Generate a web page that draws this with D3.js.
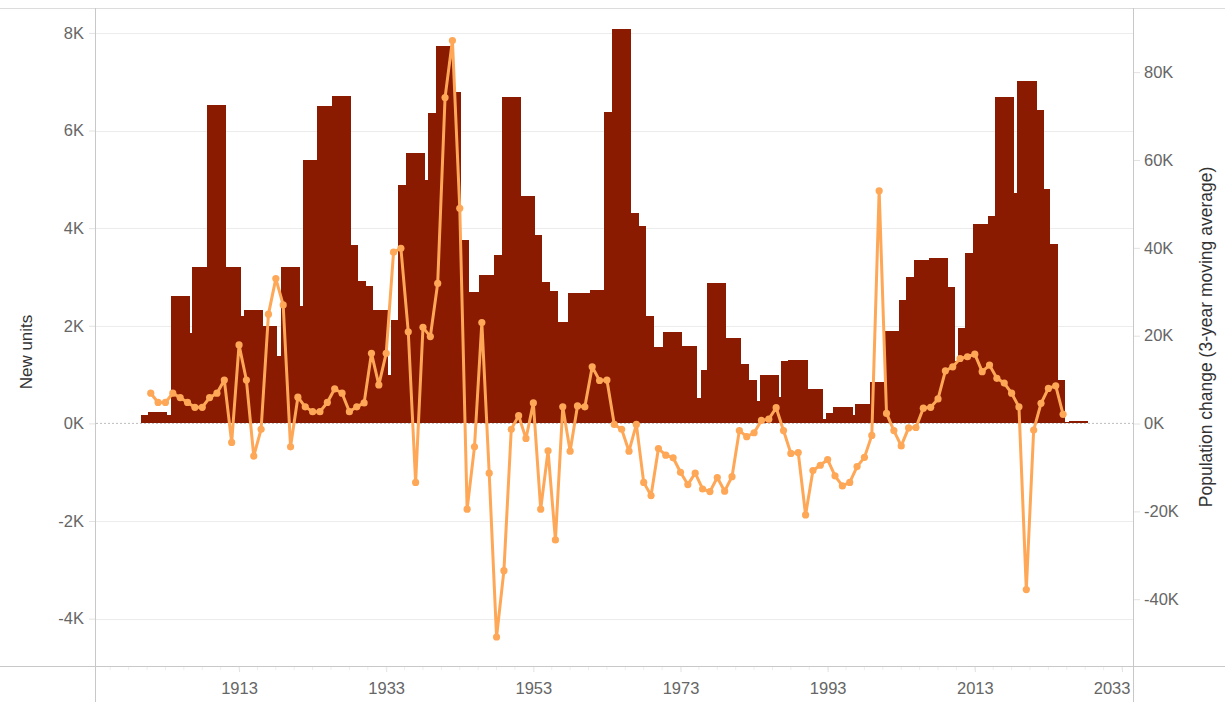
<!DOCTYPE html>
<html>
<head>
<meta charset="utf-8">
<script src="https://cdn.jsdelivr.net/npm/d3@7"></script>
<style>
  body { margin: 0; background: #fff; }
  text { font-family: "Liberation Sans", Arial, sans-serif; }
</style>
</head>
<body>
<svg id="chart" width="1225" height="702"></svg>
<script>
// bars: each one runs from its start year to the next start year
var barYears = [1899.64, 1900.67, 1903.17, 1903.76, 1906.24, 1906.61, 1908.65, 1911.14, 1913.18, 1913.72,
  1916.22, 1918.13, 1918.67, 1921.16, 1921.74, 1923.6, 1925.64, 1928.13, 1929.14, 1930.17,
  1931.18, 1933.21, 1933.62, 1934.66, 1935.66, 1938.19, 1938.73, 1939.78, 1942.13, 1943.14,
  1944.13, 1945.67, 1947.71, 1948.75, 1951.3, 1953.14, 1954.15, 1955.18, 1956.23, 1957.77,
  1960.68, 1962.66, 1963.75, 1966.25, 1967.28, 1968.29, 1969.32, 1970.68, 1973.18, 1975.22,
  1975.77, 1976.66, 1979.16, 1981.2, 1982.24, 1983.28, 1983.83, 1986.32, 1986.68, 1987.67,
  1990.22, 1992.26, 1992.8, 1993.79, 1996.38, 1996.7, 1998.78, 2000.82, 2002.63, 2003.67,
  2004.72, 2006.76, 2009.25, 2010.3, 2010.78, 2011.6, 2012.69, 2014.73, 2015.73, 2018.26,
  2018.8, 2021.35, 2022.34, 2023.21, 2024.2, 2025.25, 2025.79];
var barEndYear = 2028.28;
var newUnits = [170, 230, 170, 2610, 1850, 3200, 6530, 3200, 2200, 2330,
  2000, 1380, 3200, 2410, 5400, 6500, 6710, 3660, 2920, 2820,
  2330, 990, 2120, 4890, 5530, 4990, 6350, 7740, 6780, 3760,
  2690, 3040, 3450, 6680, 4660, 3860, 2890, 2710, 2070, 2670,
  2740, 6370, 8090, 4310, 4050, 2200, 1560, 1870, 1590, 520,
  1100, 2870, 1740, 1220, 890, 450, 990, 550, 1270, 1300,
  710, 90, 220, 340, 170, 400, 840, 1890, 2530, 3000,
  3350, 3380, 2790, 1270, 1960, 3500, 4090, 4250, 6680, 4720,
  7020, 6420, 4810, 3680, 890, 30, 40];

// population change, 3-year moving average, 1901..2025 (thousands)
var popFirstYear = 1901;
var popChange = [6.9, 4.8, 4.8, 6.9, 5.9, 4.8, 3.7, 3.7, 5.9, 6.9,
  9.9, -4.3, 17.9, 9.9, -7.4, -1.3, 24.9, 33.0, 27.0, -5.3,
  6.0, 3.8, 2.7, 2.7, 4.8, 7.9, 6.9, 2.7, 3.8, 4.7,
  16.0, 8.8, 16.0, 39.0, 39.9, 20.9, -13.4, 21.9, 19.8, 31.9,
  74.2, 87.2, 49.0, -19.5, -5.3, 23.0, -11.3, -48.6, -33.5, -1.3,
  1.8, -3.4, 4.7, -19.5, -6.2, -26.5, 3.8, -6.3, 4.0, 3.8,
  12.9, 9.8, 9.9, -0.2, -1.3, -6.3, -0.2, -13.4, -16.4, -5.7,
  -7.2, -7.8, -11.1, -13.9, -11.3, -14.9, -15.5, -12.3, -15.4, -12.1,
  -1.6, -3.0, -2.1, 0.7, 1.0, 3.6, -1.6, -6.8, -6.6, -20.8,
  -10.7, -9.5, -8.2, -11.9, -14.2, -13.4, -9.8, -7.7, -2.7, 53.0,
  2.3, -1.6, -5.1, -1.0, -0.9, 3.5, 3.7, 5.6, 12.0, 12.9,
  14.8, 15.2, 15.8, 11.8, 13.3, 10.3, 9.2, 6.9, 3.8, -37.8,
  -1.5, 4.6, 8.0, 8.6, 2.1];

var xTickYears = [1913, 1933, 1953, 1973, 1993, 2013, 2033];
var leftTicks = [-4000, -2000, 0, 2000, 4000, 6000, 8000];
var rightTicks = [-40000, -20000, 0, 20000, 40000, 60000, 80000];

var W = 1225, H = 702;
var plotL = 96, plotR = 1133, plotT = 8, plotB = 666;
var barColor = "#8a1a00", lineColor = "#fea757";

var svg = d3.select("#chart");

var x = d3.scaleLinear().domain([1893.56, 2034.5]).range([plotL, plotR]);
var yL = d3.scaleLinear().domain([-4970, 8510]).range([plotB, plotT]);
var yR = d3.scaleLinear().domain([-55200, 94600]).range([plotB, plotT]);

// plain hyphen for negatives, like the original
var kFmt = function (d) { return (d / 1000) + "K"; };

// grid lines
svg.append("g").selectAll("line")
  .data(leftTicks.filter(function (d) { return d !== 0; }))
  .enter().append("line")
  .attr("x1", plotL).attr("x2", plotR)
  .attr("y1", function (d) { return Math.round(yL(d)) + 0.5; })
  .attr("y2", function (d) { return Math.round(yL(d)) + 0.5; })
  .attr("stroke", "#ececec");

// zero line
svg.append("line")
  .attr("x1", plotL).attr("x2", plotR)
  .attr("y1", yL(0)).attr("y2", yL(0))
  .attr("stroke", "#bdbdbd")
  .attr("stroke-dasharray", "2,2");

// bars
var bars = newUnits.map(function (v, i) {
  return { x0: barYears[i], x1: i < barYears.length - 1 ? barYears[i + 1] : barEndYear, v: v };
});
svg.append("g")
  .attr("shape-rendering", "crispEdges")
  .selectAll("rect")
  .data(bars)
  .enter().append("rect")
  .attr("x", function (d) { return x(d.x0); })
  .attr("width", function (d) { return x(d.x1) - x(d.x0) + 0.5; })
  .attr("y", function (d) { return yL(d.v); })
  .attr("height", function (d) { return yL(0) - yL(d.v); })
  .attr("fill", barColor);

// population line
var pts = popChange.map(function (v, i) { return { year: popFirstYear + i, v: v * 1000 }; });
var line = d3.line()
  .x(function (d) { return x(d.year); })
  .y(function (d) { return yR(d.v); });

svg.append("path")
  .datum(pts)
  .attr("d", line)
  .attr("fill", "none")
  .attr("stroke", lineColor)
  .attr("stroke-width", 3)
  .attr("stroke-linejoin", "round");

svg.append("g").selectAll("circle")
  .data(pts)
  .enter().append("circle")
  .attr("cx", function (d) { return x(d.year); })
  .attr("cy", function (d) { return yR(d.v); })
  .attr("r", 3.6)
  .attr("fill", lineColor);

// frame lines
svg.append("line").attr("x1", 0).attr("x2", W).attr("y1", plotT + 0.5).attr("y2", plotT + 0.5).attr("stroke", "#dcdcdc");
svg.append("line").attr("x1", 0).attr("x2", W).attr("y1", plotB + 0.5).attr("y2", plotB + 0.5).attr("stroke", "#c8c8c8");
svg.append("line").attr("x1", plotL - 0.5).attr("x2", plotL - 0.5).attr("y1", plotT).attr("y2", H).attr("stroke", "#c8c8c8");
svg.append("line").attr("x1", plotR + 0.5).attr("x2", plotR + 0.5).attr("y1", plotT).attr("y2", H).attr("stroke", "#c8c8c8");

// left axis
var gL = svg.append("g").attr("transform", "translate(" + (plotL - 1) + ",0)")
  .call(d3.axisLeft(yL).tickValues(leftTicks).tickFormat(kFmt).tickSize(6).tickPadding(5));
// right axis
var gR = svg.append("g").attr("transform", "translate(" + (plotR + 1) + ",0)")
  .call(d3.axisRight(yR).tickValues(rightTicks).tickFormat(kFmt).tickSize(6).tickPadding(4));
// bottom axis
var gB = svg.append("g").attr("transform", "translate(0," + (plotB + 1) + ")")
  .call(d3.axisBottom(x).tickValues(xTickYears).tickFormat(d3.format("d")).tickSize(5).tickPadding(10));

// minor year ticks
svg.append("g").selectAll("line")
  .data(d3.range(1895.5, 2034, 2.5))
  .enter().append("line")
  .attr("x1", function (d) { return x(d); }).attr("x2", function (d) { return x(d); })
  .attr("y1", plotB + 1).attr("y2", plotB + 4)
  .attr("stroke", "#eeeeee");

[gL, gR, gB].forEach(function (g) {
  g.select(".domain").remove();
  g.selectAll(".tick line").attr("stroke", "#e2e2e2");
  g.selectAll(".tick text").attr("fill", "#666").style("font-size", "16.5px");
});
// keep the last year label inside the frame
gB.selectAll(".tick text").filter(function (d) { return d === 2033; })
  .attr("text-anchor", "end").attr("dx", "8px");

// axis titles
svg.append("text")
  .attr("transform", "translate(32," + 352 + ") rotate(-90)")
  .attr("text-anchor", "middle")
  .attr("fill", "#333")
  .style("font-size", "17px")
  .text("New units");

svg.append("text")
  .attr("transform", "translate(1212," + 337 + ") rotate(-90)")
  .attr("text-anchor", "middle")
  .attr("fill", "#333")
  .style("font-size", "17.5px")
  .text("Population change (3-year moving average)");
</script>
</body>
</html>
